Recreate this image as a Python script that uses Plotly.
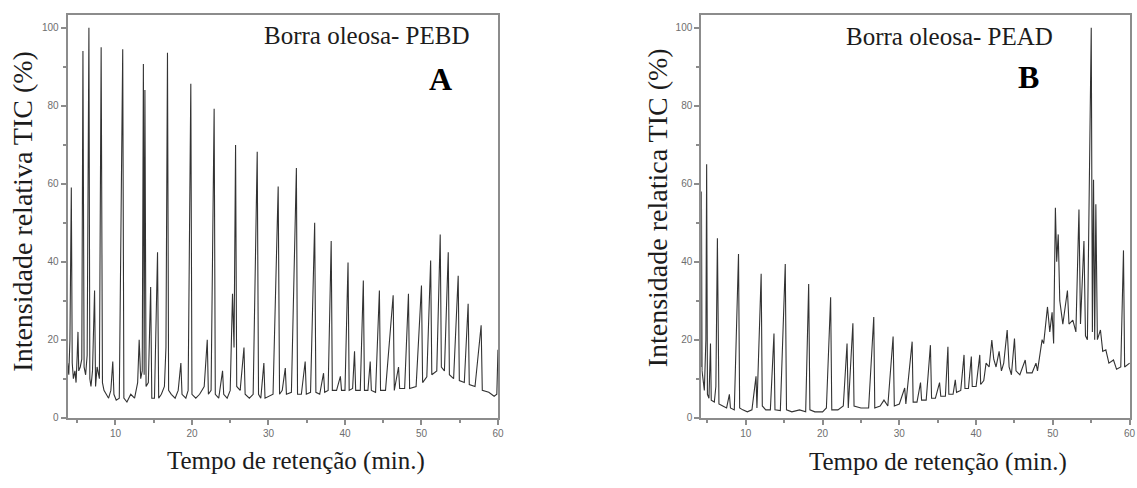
import plotly.graph_objects as go

# ---------------- Data ----------------
# Panel A: Borra oleosa - PEBD
time_a = [3.75, 3.9, 4.05, 4.23, 4.35, 4.5, 4.7, 4.85, 5.0, 5.1, 5.2, 5.4, 5.6, 5.75, 5.9,
          6.1, 6.3, 6.53, 6.65, 6.8, 7.0, 7.27, 7.4, 7.6, 7.9, 8.13, 8.3, 8.5, 8.8, 9.1,
          9.4, 9.65, 9.8, 10.1, 10.5, 10.95, 11.1, 11.5, 12.0, 12.5, 12.9, 13.1, 13.3, 13.5,
          13.65, 13.75, 13.85, 14.0, 14.3, 14.6, 14.75, 15.1, 15.5, 15.65, 16.0, 16.4, 16.6,
          16.8, 16.95, 17.3, 17.8, 18.2, 18.55, 18.7, 19.2, 19.5, 19.85, 20.0, 20.5, 21.0,
          21.6, 22.0, 22.15, 22.5, 22.9, 23.05, 23.5, 24.0, 24.15, 24.6, 25.0, 25.3, 25.5,
          25.7, 25.85, 26.3, 26.8, 26.95, 27.5, 28.0, 28.53, 28.7, 29.0, 29.4, 29.55, 30.0,
          30.6, 31.27, 31.45, 31.8, 32.2, 32.35, 33.0, 33.65, 33.8, 34.3, 34.8, 34.95, 35.5,
          36.04, 36.2, 36.7, 37.2, 37.35, 37.8, 38.2, 38.35, 38.9, 39.4, 39.55, 40.0, 40.4,
          40.55, 41.0, 41.25, 41.4, 42.0, 42.4, 42.55, 43.0, 43.3, 43.45, 44.0, 44.5, 44.65,
          45.3, 46.3, 46.45, 47.0, 47.15, 47.8, 48.3, 48.45, 49.3, 50.0, 50.15, 50.7, 51.2,
          51.35, 52.0, 52.45, 52.6, 53.0, 53.5, 53.65, 54.2, 54.8, 54.95, 55.6, 56.1, 56.25,
          57.0, 57.8, 57.95, 58.8, 59.5, 59.85, 60.0]
intensity_a = [14, 11, 20, 59, 14, 10, 12, 9, 16, 22, 12, 13, 15, 94, 13,
               11, 16, 100, 10, 8, 12, 32.6, 8, 13, 10, 95, 9, 7, 6, 5,
               7, 14.4, 6, 4.5, 5, 94.5, 5, 4, 6, 5, 9, 20, 10, 12,
               90.7, 11, 84, 8, 9, 33.5, 5, 5, 42.4, 5, 6, 8, 18,
               93.6, 7, 6, 5, 7, 14, 6, 5, 7, 85.6, 6, 5, 6,
               8, 20, 6, 7, 79.2, 6, 5, 12, 6, 5, 7, 31.8, 18,
               69.9, 8, 7, 18, 6, 5, 6, 68.2, 6, 5, 14, 5, 5.5,
               6, 59.3, 6, 7, 12.7, 6, 6.5, 64, 6, 6, 14.4, 6, 6.5,
               50, 6.5, 6, 11.4, 6.5, 7, 45.3, 7, 7, 10.6, 7, 7, 39.8,
               7, 7.5, 17, 7, 7, 35.2, 7, 7, 14.4, 7, 6.5, 32.6, 7,
               7, 31.4, 7, 13, 7.5, 7.5, 31.8, 7.5, 8, 33.9, 9, 10.5, 40.3,
               11, 12, 47, 13, 12, 42.4, 11, 10, 36.4, 9.5, 9, 29.2, 8.5,
               8, 23.7, 7, 6.5, 5.5, 6, 17.4]

# Panel B: Borra oleosa - PEAD
time_b = [4.15, 4.22, 4.3, 4.45, 4.6, 4.8, 4.9, 5.0, 5.2, 5.4, 5.5, 5.9, 6.1, 6.3, 6.4,
          6.5, 7.0, 7.5, 7.86, 8.0, 8.5, 9.05, 9.2, 9.6, 10.2, 10.8, 11.33, 11.45, 12.0,
          12.15, 12.6, 13.2, 13.67, 13.8, 14.5, 15.14, 15.3, 16.0, 17.0, 17.8, 18.19, 18.35,
          19.0, 20.0, 20.5, 21.05, 21.2, 22.0, 22.7, 23.19, 23.35, 23.95, 24.1, 25.0, 26.0,
          26.67, 26.8, 27.5, 28.0, 28.5, 29.19, 29.35, 30.0, 30.7, 30.85, 31.67, 31.8, 32.3,
          32.76, 32.9, 33.5, 34.05, 34.2, 34.7, 35.24, 35.4, 36.0, 36.33, 36.45, 37.0, 37.29,
          37.45, 38.0, 38.43, 38.55, 39.0, 39.38, 39.5, 40.0, 40.48, 40.6, 41.0, 41.3, 41.7,
          42.05, 42.3, 42.6, 43.0, 43.3, 43.6, 44.05, 44.3, 44.6, 45.0, 45.2, 45.7, 46.4,
          46.6, 47.3, 47.8, 48.0, 48.6, 48.8, 49.3, 49.6, 49.9, 50.1, 50.33, 50.5, 50.7,
          50.9, 51.3, 51.9, 52.1, 52.6, 53.0, 53.4, 53.6, 54.05, 54.25, 54.5, 55.0, 55.15,
          55.3, 55.45, 55.6, 55.8, 56.2, 56.5, 56.9, 57.3, 57.9, 58.3, 58.6, 58.85, 59.2,
          59.35, 60.0]
intensity_b = [13, 58, 12, 9, 7, 20, 65, 6, 5, 19, 4.5, 4, 8, 46, 27,
               3.5, 3, 2.5, 6, 2.5, 2, 42, 2.5, 2, 1.5, 2, 10.6, 2.5, 36.9,
               3, 2, 2, 21.6, 2, 1.8, 39.4, 2, 1.5, 2, 1.5, 34.3, 2,
               1.5, 1.5, 2.5, 30.9, 2, 2, 3, 19, 2.5, 24.2, 3, 2.5, 2.5,
               25.8, 2.5, 3, 4.5, 3, 20.8, 3, 3.5, 7.6, 3.5, 19.5, 4, 4,
               9, 4.5, 4.5, 18.6, 5, 5, 9, 5.5, 5.5, 18.2, 6, 6, 9.7,
               6.5, 7, 16.1, 7.5, 7.5, 15.7, 8, 8, 16.1, 8.5, 9.5, 14, 13,
               19.9, 15, 13, 17, 12, 14, 22.5, 13, 11, 20.3, 12, 11, 14.8,
               11.5, 11.5, 14, 12, 20, 19, 28.4, 22, 27, 19, 53.8, 40, 47,
               30, 24, 32.6, 24, 25, 22, 53.4, 24, 45.3, 21, 20, 100, 22,
               61, 20, 54.7, 20, 22.5, 17, 17.4, 14, 14.8, 12.4, 12.7, 13, 42.9,
               13, 14]

x_tick_values = [10, 20, 30, 40, 50, 60]
y_tick_values = [0, 20, 40, 60, 80, 100]

# ---------------- Figure ----------------
W, H = 1137, 488
line_col = "#333333"
axis_col = "#8c8c8c"
serif = "Liberation Serif, Times New Roman, serif"
text_col = "#1c1c1c"

fig = go.Figure()
fig.add_trace(go.Scatter(x=time_a, y=intensity_a, mode="lines",
                         line=dict(color=line_col, width=1.1),
                         xaxis="x", yaxis="y", showlegend=False))
fig.add_trace(go.Scatter(x=time_b, y=intensity_b, mode="lines",
                         line=dict(color=line_col, width=1.1),
                         xaxis="x2", yaxis="y2", showlegend=False))

def px_x(p):
    return p / W

def px_y(p):
    return 1 - p / H

ydom = [px_y(422), px_y(15)]

common_axis = dict(
    showline=True, mirror=True, linecolor=axis_col, linewidth=2,
    ticks="outside", ticklen=5, tickwidth=1.5, tickcolor=axis_col,
    showgrid=False, zeroline=False,
    tickfont=dict(family="Liberation Sans, Arial, sans-serif", size=10, color="#6e6e6e"),
)

fig.update_layout(
    width=W, height=H,
    margin=dict(l=0, r=0, t=0, b=0),
    paper_bgcolor="white", plot_bgcolor="white",
    xaxis=dict(domain=[px_x(68), px_x(501)], range=[3.75, 60.05],
               tickvals=x_tick_values, anchor="y",
               minor=dict(ticks="outside", ticklen=3, tickcolor=axis_col, dtick=5, tick0=0),
               **common_axis),
    yaxis=dict(domain=ydom, range=[0, 103.3], tickvals=y_tick_values, anchor="x",
               minor=dict(ticks="outside", ticklen=3, tickcolor=axis_col, dtick=10, tick0=0),
               **common_axis),
    xaxis2=dict(domain=[px_x(705), px_x(1136)], range=[4.2, 60.05],
                tickvals=x_tick_values, anchor="y2",
                minor=dict(ticks="outside", ticklen=3, tickcolor=axis_col, dtick=5, tick0=0),
                **common_axis),
    yaxis2=dict(domain=ydom, range=[0, 103.3], tickvals=y_tick_values, anchor="x2",
                minor=dict(ticks="outside", ticklen=3, tickcolor=axis_col, dtick=10, tick0=0),
                **common_axis),
)

annots = [
    dict(text="Intensidade relativa TIC (%)", x=px_x(23), y=px_y(213), textangle=-90,
         font=dict(family=serif, size=28, color=text_col)),
    dict(text="Intensidade relatica TIC (%)", x=px_x(661), y=px_y(210), textangle=-90,
         font=dict(family=serif, size=28, color=text_col)),
    dict(text="Tempo de retenção (min.)", x=px_x(298), y=px_y(466),
         font=dict(family=serif, size=25, color=text_col)),
    dict(text="Tempo de retenção (min.)", x=px_x(943), y=px_y(467),
         font=dict(family=serif, size=25, color=text_col)),
    dict(text="Borra oleosa- PEBD", x=px_x(369), y=px_y(36),
         font=dict(family=serif, size=25, color=text_col)),
    dict(text="Borra oleosa- PEAD", x=px_x(955), y=px_y(37),
         font=dict(family=serif, size=25, color=text_col)),
    dict(text="<b>A</b>", x=px_x(443), y=px_y(80),
         font=dict(family=serif, size=32, color="#000000")),
    dict(text="<b>B</b>", x=px_x(1034), y=px_y(78),
         font=dict(family=serif, size=32, color="#000000")),
]
for a in annots:
    a.update(xref="paper", yref="paper", showarrow=False, xanchor="center", yanchor="middle")
fig.update_layout(annotations=annots)

fig.write_html("out.html")
